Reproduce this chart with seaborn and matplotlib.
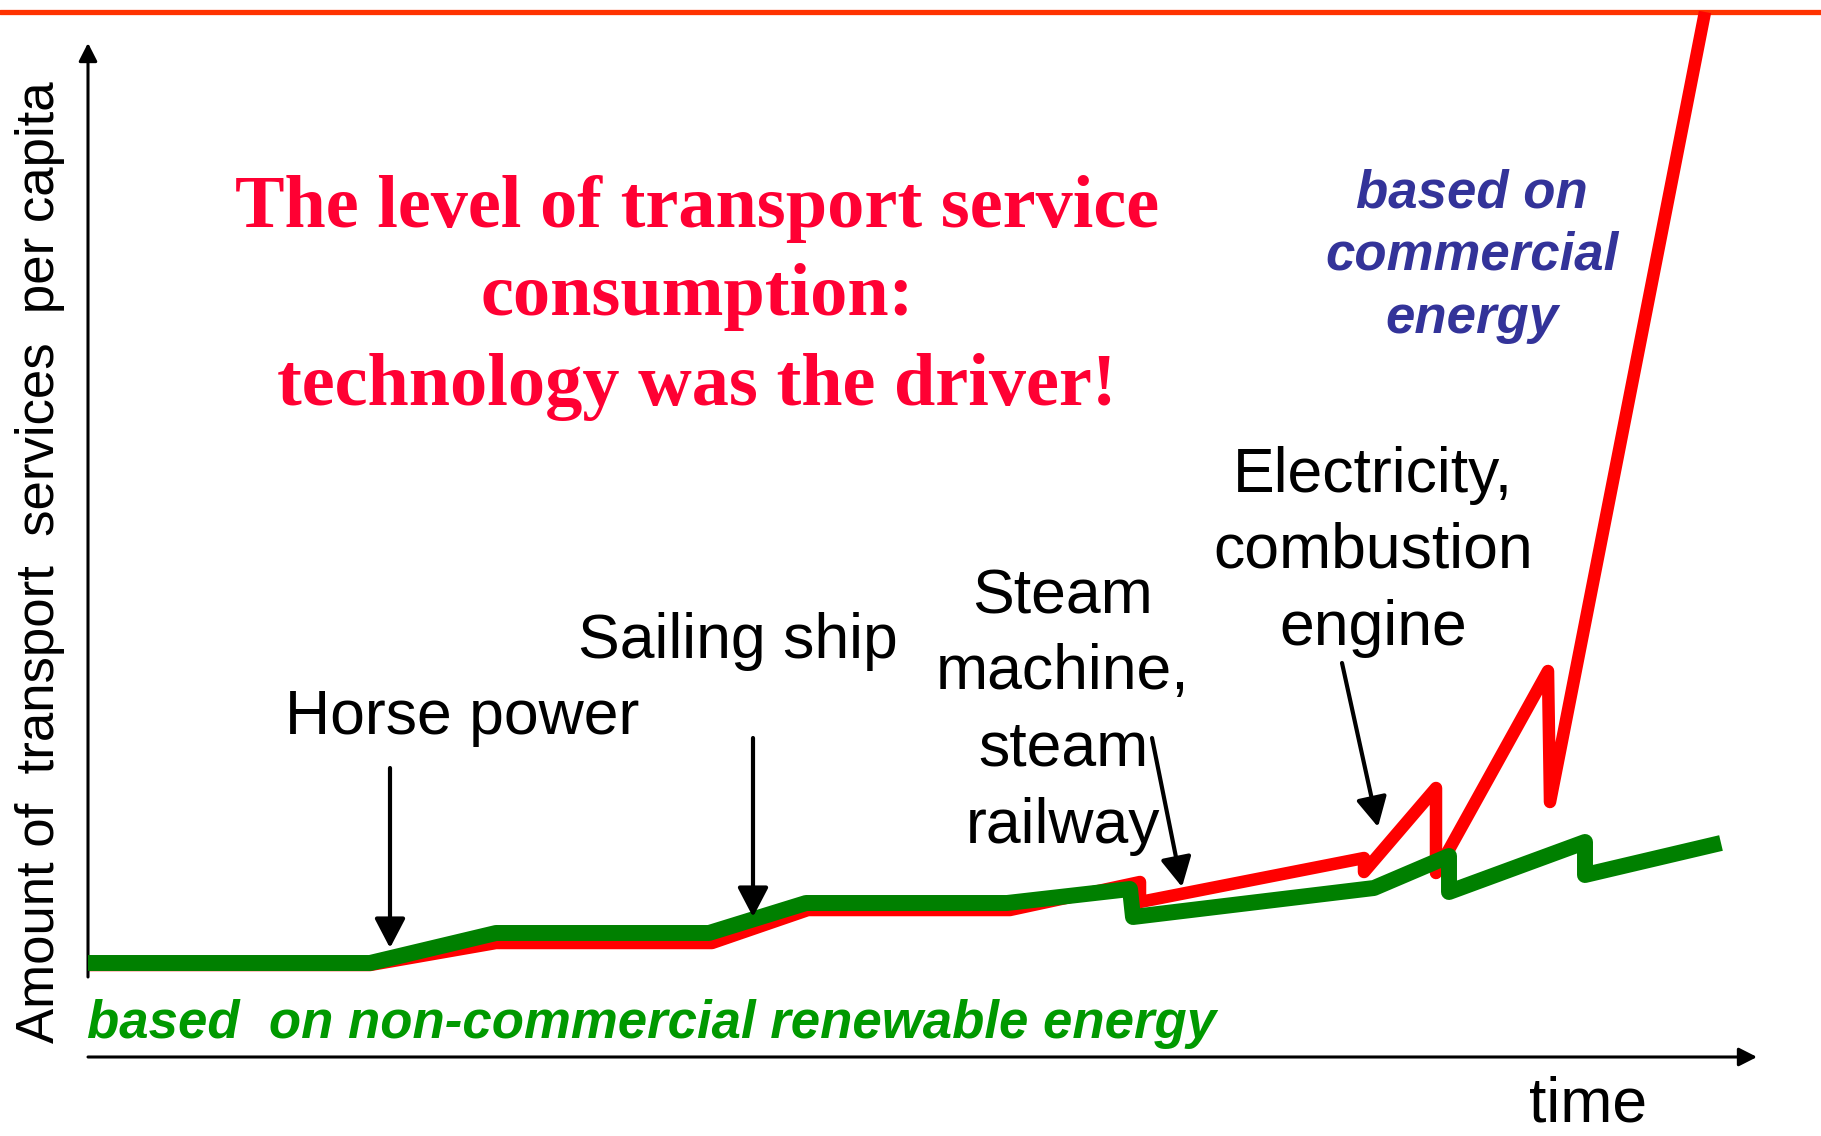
import matplotlib
matplotlib.use("Agg")
import matplotlib.pyplot as plt
import seaborn as sns

## --- data (figure pixel units, y grows downward) ---
red_x = [88, 370, 496, 712, 808, 1010, 1140, 1140, 1364, 1364, 1436, 1436, 1548, 1550, 1705]
red_y = [965, 965, 943, 943, 910, 910, 882, 902, 858, 872, 788, 873, 671, 802, 12]

green_x = [88, 370, 496, 709, 806, 1007, 1130, 1133, 1374, 1449, 1449, 1585, 1585, 1721]
green_y = [963, 963, 933, 933, 903, 903, 889, 917, 888, 856, 892, 842, 875, 843]

title_lines = ["The level of transport service", "consumption:", "technology was the driver!"]
title_base = [227, 315, 405]

labels = ["Horse power", "Sailing ship"]
label_xy = [(462, 734), (738, 658)]

steam_lines = ["Steam", "machine,", "steam", "railway"]
steam_base = [613, 689, 765, 843]

elec_lines = ["Electricity,", "combustion", "engine"]
elec_base = [492, 568, 645]

comm_lines = ["based on", "commercial", "energy"]
comm_base = [207, 270, 333]

# arrows: (start, tip)
pointers = [((390, 768), (390, 948)),
            ((753, 738), (753, 917)),
            ((1152, 738), (1182, 887)),
            ((1342, 663), (1378, 827))]

sns.set_theme(style="white")
plt.rcParams['font.family'] = ['Liberation Sans', 'DejaVu Sans']

fig = plt.figure(figsize=(18.21, 11.36), dpi=100)
ax = fig.add_axes([0, 0, 1, 1])
ax.set_xlim(0, 1821)
ax.set_ylim(1136, 0)
ax.axis('off')

# slide top rule
ax.axhline(12, color='#FF3300', lw=3.8, zorder=1)

sns.lineplot(x=red_x, y=red_y, sort=False, estimator=None, color='#FF0000', lw=9,
             solid_joinstyle='round', solid_capstyle='butt', ax=ax, legend=False, zorder=3)
sns.lineplot(x=green_x, y=green_y, sort=False, estimator=None, color='#008000', lw=11.5,
             solid_joinstyle='round', solid_capstyle='butt', ax=ax, legend=False, zorder=4)

# axes arrows
ax_arrow = dict(arrowstyle='-|>,head_length=0.55,head_width=0.28', color='black', lw=2.2,
                shrinkA=0, shrinkB=0, mutation_scale=20)
ax.annotate('', xy=(88, 43), xytext=(88, 977), arrowprops=ax_arrow)
ax.annotate('', xy=(1757, 1057), xytext=(88, 1057), arrowprops=ax_arrow)

ptr = dict(arrowstyle='-|>,head_length=0.9,head_width=0.47', color='black', lw=3,
           shrinkA=0, shrinkB=0, mutation_scale=20)
for (s, t) in pointers:
    ax.annotate('', xy=t, xytext=s, arrowprops=ptr, zorder=5)

# title
for line, yb in zip(title_lines, title_base):
    ax.text(697, yb, line, ha='center', va='baseline', fontsize=53.5, fontweight='bold',
            family=['Liberation Serif', 'DejaVu Serif'], color='#FF0033')

# technology labels
for txt, (x, y) in zip(labels, label_xy):
    ax.text(x, y, txt, ha='center', va='baseline', fontsize=45, color='black')
for line, yb in zip(steam_lines, steam_base):
    ax.text(1063, yb, line, ha='center', va='baseline', fontsize=45, color='black')
for line, yb in zip(elec_lines, elec_base):
    ax.text(1373, yb, line, ha='center', va='baseline', fontsize=45, color='black')
for line, yb in zip(comm_lines, comm_base):
    ax.text(1472, yb, line, ha='center', va='baseline', fontsize=38, fontweight='bold',
            style='italic', color='#333399')

ax.text(87, 1038, "based  on non-commercial renewable energy", ha='left', va='baseline',
        fontsize=38, fontweight='bold', style='italic', color='#009900')

ax.text(1588, 1122, "time", ha='center', va='baseline', fontsize=45, color='black')
ax.text(40, 562, "Amount of  transport  services  per capita", ha='center', va='center',
        rotation=90, fontsize=38, color='black')

fig.savefig('out.png', dpi=100)
